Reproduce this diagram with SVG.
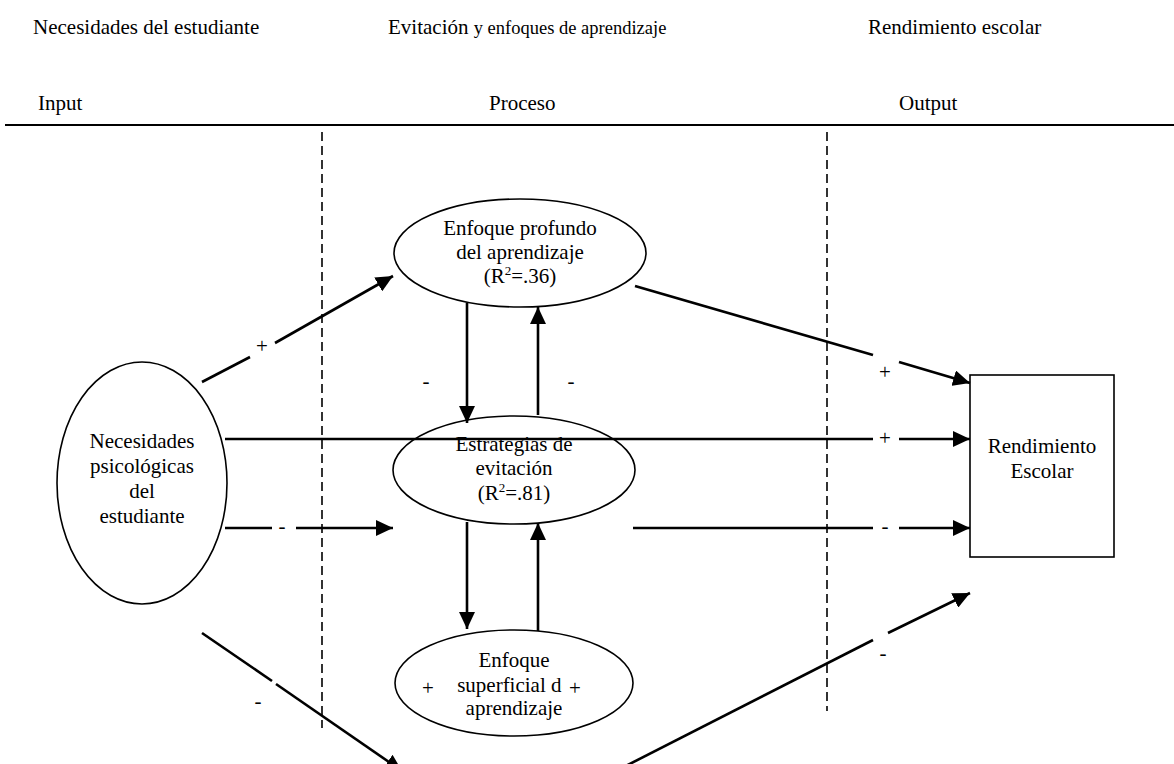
<svg xmlns="http://www.w3.org/2000/svg" width="1174" height="764" viewBox="0 0 1174 764" font-family="'Liberation Serif', Tinos, 'Times New Roman', Times, serif">
<style>
text{font-family:'Liberation Serif',Tinos,'Times New Roman',Times,serif;font-size:21px;fill:#000}
.c{text-anchor:middle}
.node{fill:#fff;stroke:#000;stroke-width:1.6}
.conn{stroke:#000;stroke-width:2.6;fill:none}
.arr{marker-end:url(#ah)}
.dash{stroke:#000;stroke-width:1.6;stroke-dasharray:9,5;fill:none}
</style>
<defs>
<marker id="ah" markerUnits="userSpaceOnUse" markerWidth="18" markerHeight="16" refX="17" refY="8" orient="auto">
<path d="M0,0 L17,8 L0,16 z" fill="#000"/>
</marker>
</defs>
<rect width="1174" height="764" fill="#fff"/>
<g id="headers">
<text x="33" y="34">Necesidades del estudiante</text>
<text x="388" y="34">Evitación <tspan font-size="18.5">y enfoques de aprendizaje</tspan></text>
<text x="868" y="34">Rendimiento escolar</text>
<text x="38" y="110" font-size="21.5">Input</text>
<text x="489" y="110" font-size="21.5">Proceso</text>
<text x="899" y="110" font-size="21.5">Output</text>
<line x1="5" y1="125" x2="1174" y2="125" stroke="#000" stroke-width="2"/>
<line class="dash" x1="322" y1="132" x2="322" y2="728"/>
<line class="dash" x1="827" y1="132" x2="827" y2="711"/>
</g>
<g id="node-necesidades">
<ellipse class="node" cx="142" cy="483" rx="85" ry="121"/>
<text class="c" x="142" y="448">Necesidades</text>
<text class="c" x="142" y="473">psicológicas</text>
<text class="c" x="142" y="498">del</text>
<text class="c" x="142" y="523">estudiante</text>
</g>
<g id="node-profundo">
<ellipse class="node" cx="520" cy="253" rx="126" ry="54"/>
<text class="c" x="520" y="235">Enfoque profundo</text>
<text class="c" x="520" y="259">del aprendizaje</text>
<text class="c" x="520" y="283">(R<tspan font-size="13" dy="-8">2</tspan><tspan dy="8">=.36)</tspan></text>
</g>
<g id="node-estrategias">
<ellipse class="node" cx="514" cy="470" rx="121" ry="54"/>
<text class="c" x="514" y="451">Estrategias de</text>
<text class="c" x="514" y="475">evitación</text>
<text class="c" x="514" y="500">(R<tspan font-size="13" dy="-8">2</tspan><tspan dy="8">=.81)</tspan></text>
</g>
<g id="node-superficial">
<ellipse class="node" cx="514" cy="683" rx="119" ry="53"/>
<text class="c" x="514" y="667">Enfoque</text>
<text class="c" x="514" y="692">superficial de</text>
<text class="c" x="514" y="715">aprendizaje</text>
</g>
<g id="node-rendimiento">
<rect class="node" x="970" y="375" width="144" height="182"/>
<text class="c" x="1042" y="453">Rendimiento</text>
<text class="c" x="1042" y="478">Escolar</text>
</g>
<g id="connectors">
<line class="conn" x1="202" y1="382" x2="250" y2="357"/>
<line class="conn arr" x1="275" y1="343" x2="393" y2="276"/>
<line class="conn" x1="225" y1="439" x2="873" y2="439"/>
<line class="conn arr" x1="899" y1="439" x2="970" y2="439"/>
<line class="conn" x1="225" y1="528" x2="272" y2="528"/>
<line class="conn arr" x1="296" y1="528" x2="393" y2="528"/>
<line class="conn" x1="202" y1="633" x2="272" y2="681"/>
<line class="conn arr" x1="276" y1="684" x2="402" y2="771"/>
<line class="conn" x1="635" y1="286" x2="873" y2="355"/>
<line class="conn arr" x1="899" y1="362" x2="970" y2="383"/>
<line class="conn" x1="633" y1="528" x2="873" y2="528"/>
<line class="conn arr" x1="899" y1="528" x2="970" y2="528"/>
<line class="conn" x1="610" y1="774" x2="873" y2="640"/>
<line class="conn arr" x1="888" y1="633" x2="970" y2="593"/>
<line class="conn arr" x1="467" y1="303" x2="467" y2="423"/>
<line class="conn arr" x1="538" y1="415" x2="538" y2="307"/>
<line class="conn arr" x1="467" y1="522" x2="467" y2="629"/>
<line class="conn arr" x1="538" y1="631" x2="538" y2="523"/>
<rect x="562" y="670" width="28" height="50" fill="#fff"/>
<text class="c" x="262" y="353">+</text>
<text class="c" x="885" y="379">+</text>
<text class="c" x="885" y="445">+</text>
<text class="c" x="885" y="533">-</text>
<text class="c" x="282" y="533">-</text>
<text class="c" x="426" y="388">-</text>
<text class="c" x="571" y="388">-</text>
<text class="c" x="258" y="708">-</text>
<text class="c" x="883" y="660">-</text>
<text class="c" x="428" y="695">+</text>
<text class="c" x="575" y="695">+</text>
</g>
</svg>
